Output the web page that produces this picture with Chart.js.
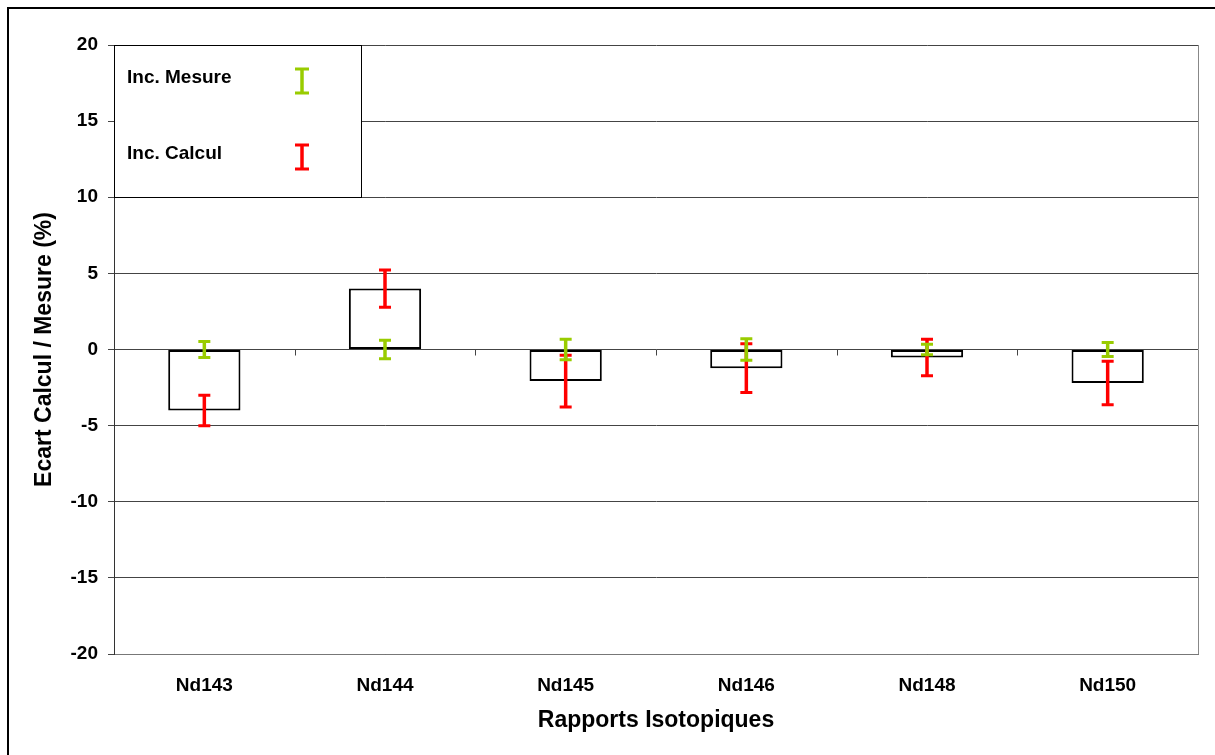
<!DOCTYPE html>
<html>
<head>
<meta charset="utf-8">
<script src="https://cdn.jsdelivr.net/npm/chart.js@4.4.1/dist/chart.umd.min.js"></script>
<style>
  html, body { margin: 0; padding: 0; background: #fff; }
  #wrap { width: 1215px; height: 755px; }
</style>
</head>
<body>
<div id="wrap"><canvas id="chart" width="1215" height="755"></canvas></div>
<script>
// data
var categories = ['Nd143', 'Nd144', 'Nd145', 'Nd146', 'Nd148', 'Nd150'];
var ecart = [-4.0, 4.0, -2.07, -1.23, -0.52, -2.2];       // Ecart Calcul / Mesure (%)
var incCalcul = [1.0, 1.22, 1.7, 1.6, 1.2, 1.43];          // centred on the bar value
var incMesure = [0.53, 0.6, 0.67, 0.71, 0.35, 0.46];       // centred on zero
var yTicks = [-20, -15, -10, -5, 0, 5, 10, 15, 20];
var legendItems = ['Inc. Mesure', 'Inc. Calcul'];

var GREEN = '#99cc00';
var RED = '#ff0000';
var FONT = 'Arial, "Liberation Sans", sans-serif';

function drawErrBar(ctx, x, y1, y2, color, half) {
    ctx.save();
    ctx.strokeStyle = color;
    ctx.lineWidth = 3.5;
    ctx.beginPath();
    ctx.moveTo(x, y1); ctx.lineTo(x, y2);
    ctx.stroke();
    ctx.lineWidth = 3;
    ctx.beginPath();
    ctx.moveTo(x - half, y1); ctx.lineTo(x + half, y1);
    ctx.moveTo(x - half, y2); ctx.lineTo(x + half, y2);
    ctx.stroke();
    ctx.restore();
}

var excelLook = {
    id: 'excelLook',
    afterDatasetsDraw: function(chart) {
        var ctx = chart.ctx;
        var xs = chart.scales.x, ys = chart.scales.y;
        var area = chart.chartArea;
        var meta = chart.getDatasetMeta(0);

        // small category ticks on the zero line
        var y0 = ys.getPixelForValue(0);
        ctx.save();
        ctx.strokeStyle = '#444';
        ctx.lineWidth = 1;
        ctx.beginPath();
        for (var k = 0; k < categories.length - 1; k++) {
            var bx = Math.round((xs.getPixelForValue(k) + xs.getPixelForValue(k + 1)) / 2) + 0.5;
            ctx.moveTo(bx, y0); ctx.lineTo(bx, y0 + 6);
        }
        ctx.stroke();

        // plot border right side
        ctx.strokeStyle = '#888';
        ctx.beginPath();
        ctx.moveTo(area.right + 0.5, area.top);
        ctx.lineTo(area.right + 0.5, area.bottom);
        ctx.stroke();
        ctx.restore();

        // error bars
        meta.data.forEach(function(bar, i) {
            drawErrBar(ctx, bar.x,
                ys.getPixelForValue(ecart[i] + incCalcul[i]),
                ys.getPixelForValue(ecart[i] - incCalcul[i]), RED, 6);
            drawErrBar(ctx, bar.x,
                ys.getPixelForValue(incMesure[i]),
                ys.getPixelForValue(-incMesure[i]), GREEN, 6);
        });

        // legend box in the top-left corner of the plot
        var lx = area.left, ly = area.top, lw = 247, lh = 152;
        ctx.save();
        ctx.fillStyle = '#fff';
        ctx.fillRect(lx, ly, lw, lh);
        ctx.strokeStyle = '#000';
        ctx.lineWidth = 1;
        ctx.strokeRect(lx + 0.5, ly + 0.5, lw, lh);
        ctx.fillStyle = '#000';
        ctx.font = 'bold 19px ' + FONT;
        ctx.textBaseline = 'middle';
        ctx.textAlign = 'left';
        var colors = [GREEN, RED];
        legendItems.forEach(function(txt, j) {
            var cy = ly + 33 + j * 76;
            ctx.fillText(txt, lx + 13, cy);
            drawErrBar(ctx, lx + 188, cy - 9, cy + 15, colors[j], 7);
        });
        ctx.restore();

        // outer frame (right and bottom edges fall outside the picture)
        ctx.save();
        ctx.strokeStyle = '#000';
        ctx.lineWidth = 2;
        ctx.beginPath();
        ctx.moveTo(8, chart.height);
        ctx.lineTo(8, 8);
        ctx.lineTo(chart.width, 8);
        ctx.stroke();
        ctx.restore();
    }
};

new Chart(document.getElementById('chart'), {
    type: 'bar',
    data: {
        labels: categories,
        datasets: [{
            label: 'Ecart',
            data: ecart,
            backgroundColor: '#ffffff',
            borderColor: '#000000',
            borderWidth: 2,
            borderSkipped: false,
            barPercentage: 0.4,
            categoryPercentage: 1.0
        }]
    },
    options: {
        responsive: false,
        animation: false,
        layout: { padding: { top: 45, right: 17, bottom: 0, left: 0 } },
        plugins: {
            legend: { display: false },
            tooltip: { enabled: false }
        },
        scales: {
            x: {
                grid: { display: false, drawTicks: false },
                border: { display: true, color: '#777', width: 1 },
                ticks: {
                    color: '#000',
                    padding: 20,
                    font: { family: FONT, size: 19, weight: 'bold' }
                },
                title: {
                    display: true,
                    text: 'Rapports Isotopiques',
                    color: '#000',
                    padding: { top: 0, bottom: 21 },
                    font: { family: FONT, size: 23, weight: 'bold' }
                },
                afterFit: function(scale) { scale.height = 101; }
            },
            y: {
                min: -20,
                max: 20,
                afterBuildTicks: function(scale) {
                    scale.ticks = yTicks.map(function(v) { return { value: v }; });
                },
                grid: { color: '#444', lineWidth: 1, tickLength: 6, tickColor: '#444' },
                border: { display: true, color: '#333', width: 1 },
                ticks: {
                    color: '#000',
                    padding: 10,
                    font: { family: FONT, size: 19, weight: 'bold' }
                },
                title: {
                    display: true,
                    text: 'Ecart Calcul / Mesure (%)',
                    color: '#000',
                    padding: { top: 31, bottom: 0 },
                    font: { family: FONT, size: 23, weight: 'bold' }
                },
                afterFit: function(scale) { scale.width = 114; }
            }
        }
    },
    plugins: [excelLook]
});
</script>
</body>
</html>
